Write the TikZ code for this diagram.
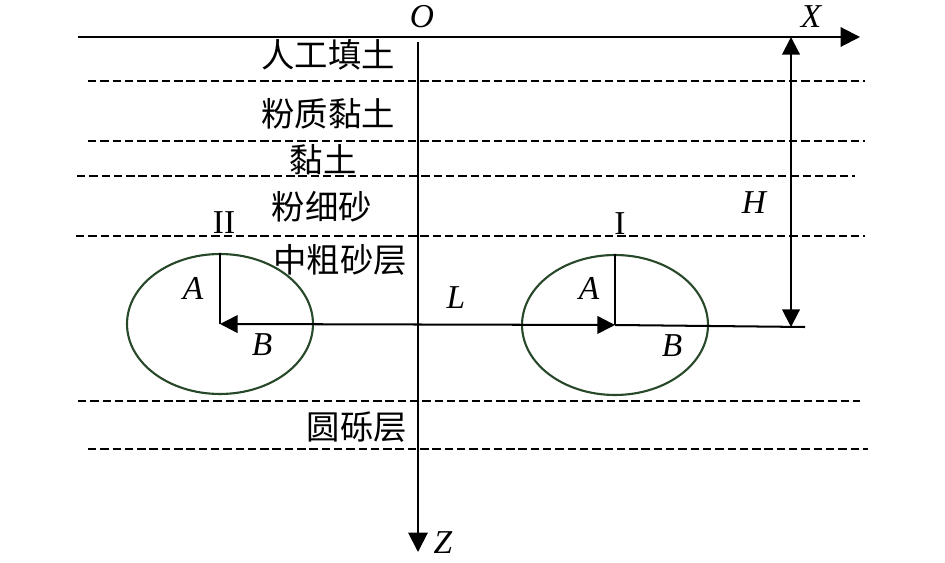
\documentclass[tikz,border=0pt]{standalone}
\usepackage{fontspec}
\setmainfont{Liberation Serif}
\newfontfamily\cjk{Noto Sans CJK SC}
\usetikzlibrary{arrows.meta,shapes.geometric}
\definecolor{tunnelgreen}{RGB}{40,72,42}
\tikzset{
  axis/.style={line width=1.15pt, -{Triangle[length=11pt,width=11pt]}},
  dim/.style={line width=1.15pt, {Triangle[length=10pt,width=10pt]}-{Triangle[length=10pt,width=10pt]}},
  bar/.style={line width=1.15pt},
  layer/.style={line width=1.2pt, dash pattern=on 4.8pt off 2.2pt},
  tunnel/.style={ellipse, draw=tunnelgreen, line width=1.2pt, minimum width=3.72cm, minimum height=2.8cm, inner sep=0pt},
  soil/.style={font=\cjk\fontsize{19}{21}\selectfont, inner sep=0pt},
  sym/.style={font=\itshape\fontsize{19}{21}\selectfont, inner sep=0pt},
  num/.style={font=\fontsize{19}{21}\selectfont, inner sep=0pt}
}
\begin{document}
\begin{tikzpicture}[x=0.02cm, y=-0.02cm]
\useasboundingbox (0,0) rectangle (945,563);
\def\zx{418}
\def\xy{37}

% axes
\coordinate (xs) at (78,\xy);
\coordinate (xe) at (860,\xy);
\coordinate (zs) at (\zx,42);
\coordinate (ze) at (\zx,552);
\draw[axis] (xs) -- (xe);
\draw[axis] (zs) -- (ze);
\node[sym] (O) at (422,17) {O};
\node[sym] (X) at (811,17) {X};
\node[sym] (Z) at (443,543) {Z};

% soil layers
\foreach \y/\a/\b in {81/88/865, 141/88/865, 176/77/855, 236/76/865, 401/78/860, 449/88/868}
  \draw[layer] (\a,\y) -- (\b,\y);
\node[soil] (fill) at (328,55) {人工填土};
\node[soil] (silt) at (328,114) {粉质黏土};
\node[soil] (clay) at (323,160) {黏土};
\node[soil] (fsand) at (322,207) {粉细砂};
\node[soil] (csand) at (340,260) {中粗砂层};
\node[soil] (grav) at (357,427) {圆砾层};

% tunnels
\node[tunnel] (t2) at (220,324) {};
\node[tunnel] (t1) at (615,325) {};
\node[num] (n2) at (224,223) {II};
\node[num] (n1) at (620,224) {I};
\node[sym] (a2) at (193,288) {A};
\node[sym] (b2) at (262,345) {B};
\node[sym] (a1) at (589,288) {A};
\node[sym] (b1) at (672,346) {B};

% edges
\coordinate (Htop) at (791,\xy);
\coordinate (Hbot) at (791,327);
\coordinate (Lend) at (805,327);
\draw[bar] (t2.center) -- (t2.north); % A of II
\draw[bar] (t1.center) -- (t1.north); % A of I
\draw[dim] (t2.center) -- (t1.center); % L
\draw[bar] (t1.center) -- (Lend);
\draw[dim] (Htop) -- (Hbot); % H
\node[sym] (L) at (456,298) {L};
\node[sym] (H) at (754,203) {H};
\end{tikzpicture}
\end{document}
